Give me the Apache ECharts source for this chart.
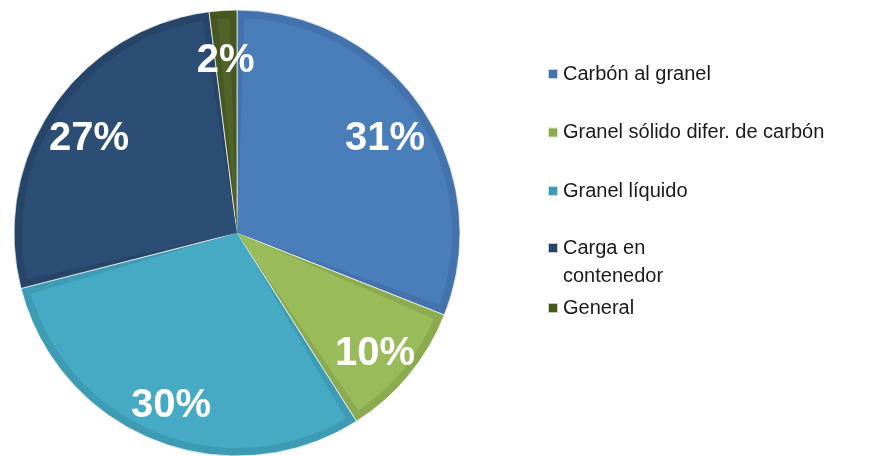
<!DOCTYPE html>
<html>
<head>
<meta charset="utf-8">
<script src="https://cdn.jsdelivr.net/npm/echarts@6/dist/echarts.min.js"></script>
<style>
html,body{margin:0;padding:0;background:#fff;}
#chart{width:880px;height:456px;}
</style>
</head>
<body>
<div id="chart"></div>
<script>
const categories = ['Carbón al granel', 'Granel sólido difer. de carbón', 'Granel líquido', 'Carga en contenedor', 'General'];
const values = [31, 10, 30, 27, 2];

const fillColors = ['#4a7ebb', '#9abb59', '#47aac5', '#2c4d74', '#50632a'];
const edgeColors = ['#4372ad', '#8caa4f', '#3e9bb4', '#274568', '#46581f'];

const chart = echarts.init(document.getElementById('chart'), null, {renderer: 'canvas'});
const font = "'Liberation Sans', Arial, sans-serif";

function buildData(colors) {
  return categories.map((c, i) => ({name: c, value: values[i], itemStyle: {color: colors[i]}}));
}

const legendText = {fontSize: 20, color: '#1a1a1a', fontFamily: font, lineHeight: 28};

chart.setOption({
  animation: false,
  legend: [
    {
      orient: 'vertical', left: 542, top: 55, itemGap: 30.5,
      itemWidth: 10, itemHeight: 10, icon: 'rect', selectedMode: false,
      data: categories.slice(0, 3),
      textStyle: legendText
    },
    {
      orient: 'vertical', left: 542, top: 201,
      itemWidth: 10, itemHeight: 10, icon: 'rect', selectedMode: false,
      data: [categories[3]],
      formatter: function (n) { return ' \nCarga en\ncontenedor'; },
      textStyle: legendText
    },
    {
      orient: 'vertical', left: 542, top: 289,
      itemWidth: 10, itemHeight: 10, icon: 'rect', selectedMode: false,
      data: [categories[4]],
      textStyle: legendText
    }
  ],
  series: [
    {
      type: 'pie', center: [237, 233], radius: [0, 223], silent: true,
      startAngle: 90, clockwise: true,
      label: {show: false}, labelLine: {show: false},
      itemStyle: {borderColor: 'rgba(255,255,255,0.7)', borderWidth: 1},
      data: buildData(edgeColors)
    },
    {
      type: 'pie', center: [237, 233], radius: [0, 215], silent: true,
      startAngle: 90, clockwise: true, padAngle: 4,
      label: {show: false}, labelLine: {show: false},
      data: buildData(fillColors)
    },
    {
      type: 'pie', center: [237, 233], radius: [132, 220], silent: true,
      startAngle: 90, clockwise: true,
      labelLine: {show: false},
      itemStyle: {color: 'rgba(0,0,0,0)'},
      label: {
        show: true, position: 'inside',
        formatter: function (p) { return p.value + '%'; },
        offset: [0, 7],
        color: '#ffffff', fontSize: 40, fontWeight: 'bold', fontFamily: font
      },
      data: categories.map((c, i) => ({name: c, value: values[i]}))
    }
  ]
});
</script>
</body>
</html>
